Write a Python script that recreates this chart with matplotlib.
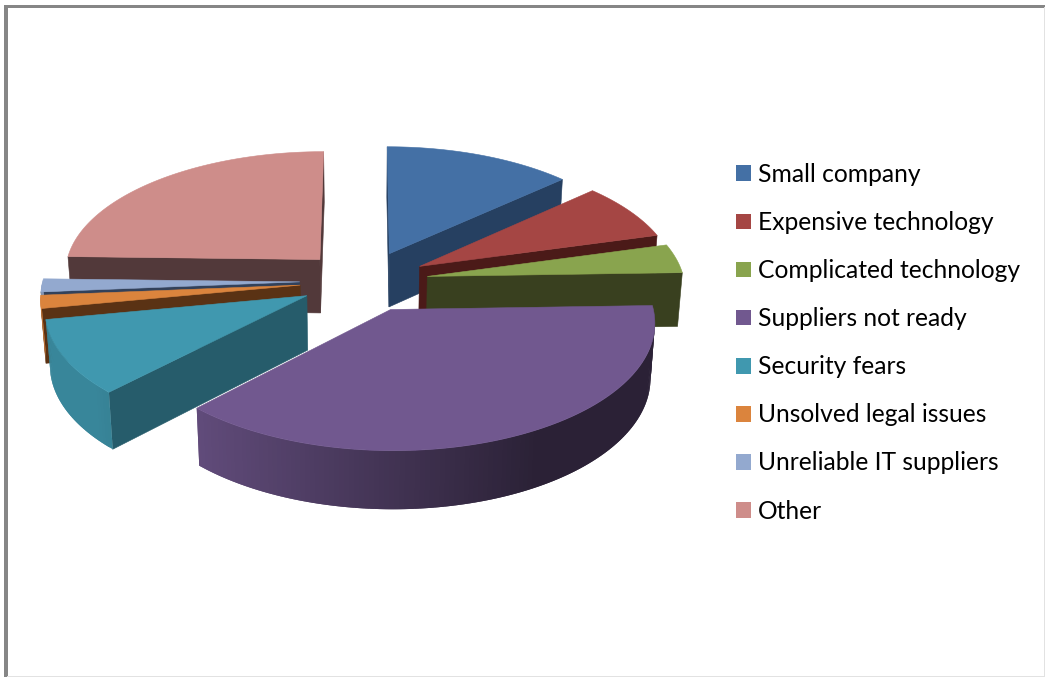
import numpy as np
import matplotlib
matplotlib.use('Agg')
import matplotlib.pyplot as plt
from matplotlib.patches import Patch, Polygon, Rectangle

plt.rcParams['font.family'] = ['Lato', 'DejaVu Sans']

categories = ['Small company', 'Expensive technology', 'Complicated technology',
              'Suppliers not ready', 'Security fears', 'Unsolved legal issues',
              'Unreliable IT suppliers', 'Other']
shares = [13.2, 7.5, 3.8, 37.7, 9.8, 1.7, 1.7, 24.6]
top_colors = ['#4470A5', '#A54644', '#89A44E', '#71588F',
              '#4098AF', '#DB843D', '#93A9CF', '#CE8D8A']
side_colors = ['#264061', '#4B1A18', '#39401F', '#2C2238',
               '#265C6B', '#5A3214', '#32415A', '#52393A']

# pie geometry, in pixels of the figure
cx, cy = 364, 281
rx, ry = 257, 122
depth = 0.095
wall = 54
shrink = 0.985
explode = 0.25


def project(x, y, base=False):
    s = 1 / (1 + depth * y)
    dx, dy = rx * x * s, -ry * y * s
    if base:
        return cx + dx * shrink, cy + dy * shrink + wall * s
    return cx + dx, cy + dy


def shade(color, f):
    return tuple(c * f for c in matplotlib.colors.to_rgb(color))


def side_factor(theta):
    return np.clip(0.58 - 0.4 * np.sin(theta), 0.38, 0.88)


def faces_viewer(tip, rim, inner):
    # a cut face shows when the slice's top lies above its upper edge
    ex, ey = rim[0] - tip[0], rim[1] - tip[1]
    side = ex * (inner[1] - tip[1]) - ey * (inner[0] - tip[0])
    return side * ex < 0


fig = plt.figure(figsize=(10.45, 6.77), dpi=100)
ax = fig.add_axes([0, 0, 1, 1])
ax.set_xlim(0, 1045)
ax.set_ylim(677, 0)
ax.axis('off')

# frame around the chart
ax.add_patch(Rectangle((4, 5), 1041, 2.5, color='#868686', lw=0))
ax.add_patch(Rectangle((4, 5), 3.5, 672, color='#868686', lw=0))
ax.add_patch(Rectangle((1043.5, 7), 1.5, 670, color='#E2E2E2', lw=0))
ax.add_patch(Rectangle((7, 675.5), 1038, 1.5, color='#E2E2E2', lw=0))

edges = np.radians(np.cumsum([0] + shares) * 3.6)
mids = (edges[:-1] + edges[1:]) / 2

# back slices first, so the front ones overlap them
for i in np.argsort(-np.cos(mids)):
    a0, a1 = edges[i], edges[i + 1]
    ox, oy = explode * np.sin(mids[i]), explode * np.cos(mids[i])
    th = np.linspace(a0, a1, max(int(np.degrees(a1 - a0)), 3) + 1)
    xs, ys = ox + np.sin(th), oy + np.cos(th)
    top = [project(x, y) for x, y in zip(xs, ys)]
    bot = [project(x, y, True) for x, y in zip(xs, ys)]
    tip, tip_b = project(ox, oy), project(ox, oy, True)
    inner = top[len(top) // 2]

    for rim, rim_b in ((top[0], bot[0]), (top[-1], bot[-1])):
        if faces_viewer(tip, rim, inner):
            ax.add_patch(Polygon([tip, rim, rim_b, tip_b], fc=side_colors[i],
                                 ec=side_colors[i], lw=0.4))
    # curved rim, each band overlapping the next to hide seams
    n = len(th) - 1
    for j in range(n):
        if np.cos(th[j]) > -0.02 and np.cos(th[min(j + 1, n)]) > -0.02:
            continue
        k = min(j + 2, n)
        c = shade(top_colors[i], side_factor((th[j] + th[j + 1]) / 2))
        ax.add_patch(Polygon([top[j], top[k], bot[k], bot[j]], fc=c, lw=0))
    ax.add_patch(Polygon([tip] + top, fc=top_colors[i], ec=top_colors[i], lw=0.4))

handles = [Patch(fc=c, ec='none', label=n) for c, n in zip(top_colors, categories)]
ax.legend(handles=handles, loc='upper left', bbox_to_anchor=(736, 163),
          bbox_transform=ax.transData, frameon=False, fontsize=17.7, borderpad=0,
          borderaxespad=0, handlelength=0.61, handleheight=0.61, handletextpad=0.28,
          labelspacing=1.02, labelcolor='black')

plt.savefig('out.png', dpi=100)
